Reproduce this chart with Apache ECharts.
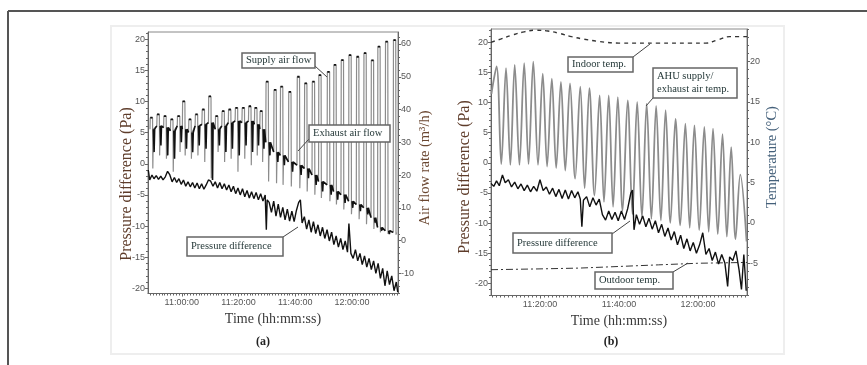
<!DOCTYPE html>
<html>
<head>
<meta charset="utf-8">
<script src="https://cdn.jsdelivr.net/npm/echarts@6/dist/echarts.min.js"></script>
<style>
html, body { margin: 0; padding: 0; background: #fff; }
#main { width: 867px; height: 365px; }
</style>
</head>
<body>
<div id="main"></div>
<script>
// time is in minutes after 11:00:00
var aTimeTicks = [0, 20, 40, 60]
var aTimeLabels = ['11:00:00', '11:20:00', '11:40:00', '12:00:00']
var bTimeTicks = [20, 40, 60]
var bTimeLabels = ['11:20:00', '11:40:00', '12:00:00']
var paTicks = [-20, -15, -10, -5, 0, 5, 10, 15, 20]
var flowTicks = [-10, 0, 10, 20, 30, 40, 50, 60]
var tempTicks = [-5, 0, 5, 10, 15, 20]

// (a) air flow, one entry per supply/exhaust cycle (m3/h)
var aCycleTime = [-11.2, -8.8, -6.4, -4.0, -1.6, 0.2, 2.4, 4.7, 7.1, 9.4, 11.8, 14.1, 16.4, 18.8, 21.2, 23.5, 25.6, 27.5,
    29.6, 32.4, 34.7, 37.6, 40.6, 43.2, 45.9, 48.2, 51.2, 53.5, 56.1, 58.8, 61.5, 64.1, 66.7, 69.0, 71.7, 74.5]
var aSupplyTop = [37.5, 38.5, 38, 37, 38, 42.5, 37, 38.5, 40, 44, 38, 39.5, 40, 40.5, 40.5, 41, 40.5, 39.5,
    48.5, 46, 47, 45.4, 50, 48, 48.5, 50.5, 51.5, 53.6, 55.1, 56.6, 56.1, 57.2, 55, 59.2, 60.7, 61.2]
var aExhaustMid = [34, 35, 34.5, 33.5, 35, 34, 33, 35, 35.5, 36, 34, 35, 36, 36.5, 36, 36.5, 35.5, 34,
    30, 27, 26, 24, 23, 22, 20, 18, 17, 15, 14, 12, 11, 10, 7, 4, 3, 2.5]
var aExhaustDip = [27, 29, 26, 25, 30, 28, 27, 29, 28, 18.5, 29, 27, 28, 26, 29, 27, 29, 28,
    26, 24, 23, 21, 20, 19, 17, 15, 14, 12.5, 11.5, 10, 9, 8, 5.5, 3, 2, 1.8]
var aTroughLow = [22, 26, 25, 21, 27, 26, 25, 26, 24, 19, 27, 24, 25, 21, 25, 23, 26, 24,
    18, 17.5, 17, 16.5, 16, 15, 14, 13, 12, 11, 9.5, 8, 6.5, 5, 3.5, 2.5, 2, 1.8]

// (a) pressure difference (Pa)
var aPressure = [[-11.8, -1.0], [-11.3, -2.6], [-10.5, -1.8], [-9.8, -2.4], [-9.0, -1.9], [-8.2, -2.5], [-7.4, -2.0], [-6.6, -2.6],
    [-5.8, -2.1], [-5.0, -1.2], [-4.2, -1.8], [-3.4, -2.9], [-2.6, -2.2], [-1.8, -3.0], [-1.0, -2.4], [-0.2, -3.3], [0.6, -2.6],
    [1.4, -3.6], [2.2, -2.9], [3.0, -3.7], [3.8, -3.0], [4.6, -3.9], [5.4, -3.1], [6.2, -4.0], [7.0, -3.2], [7.8, -4.1], [8.6, -3.4],
    [9.4, -2.6], [10.2, -2.8], [11.0, -3.6], [11.8, -2.9], [12.6, -3.9], [13.4, -3.0], [14.2, -4.0], [15.0, -3.2], [15.8, -4.2],
    [16.6, -3.4], [17.4, -4.5], [18.2, -3.6], [19.0, -4.8], [19.8, -3.9], [20.6, -5.0], [21.4, -4.0], [22.2, -5.3], [23.0, -4.3],
    [23.8, -5.5], [24.6, -4.5], [25.4, -5.6], [26.2, -4.6], [27.0, -5.8], [27.8, -4.8], [28.6, -6.0], [29.4, -5.0], [29.8, -10.6],
    [30.1, -5.8], [30.8, -6.2], [31.6, -7.8], [32.4, -6.0], [33.2, -8.4], [34.0, -6.5], [34.8, -8.6], [35.6, -7.0], [36.4, -9.0],
    [37.2, -7.3], [38.0, -9.2], [38.8, -7.6], [39.6, -9.3], [40.4, -7.5], [41.2, -6.2], [41.8, -5.8], [42.4, -9.5], [43.2, -8.5],
    [44.0, -10.5], [44.8, -9.0], [45.6, -11.0], [46.4, -9.3], [47.2, -11.2], [48.0, -9.8], [48.8, -11.6], [49.6, -10.2],
    [50.4, -12.0], [51.2, -10.6], [52.0, -12.4], [52.8, -11.0], [53.6, -13.0], [54.4, -11.6], [55.2, -13.4], [56.0, -12.0],
    [56.8, -13.8], [57.6, -12.4], [58.4, -14.2], [58.9, -9.6], [59.6, -14.4], [60.4, -15.2], [61.2, -13.8], [62.0, -15.6],
    [62.8, -14.4], [63.6, -16.2], [64.4, -14.8], [65.2, -16.6], [66.0, -15.2], [66.8, -17.0], [67.6, -15.6], [68.4, -17.6],
    [69.2, -16.0], [70.0, -18.4], [70.8, -16.8], [71.6, -19.6], [72.4, -17.2], [73.2, -19.4], [74.0, -18.0], [74.8, -20.4],
    [75.6, -19.0], [76.1, -20.6]]

// (b) AHU supply/exhaust air temperature, alternating peaks and troughs (degC)
var bAhuTemp = [[7.7, 16.0], [9.0, 19.4], [10.2, 7.3], [11.4, 19.2], [12.5, 7.2], [13.6, 19.6], [14.8, 7.2], [16.0, 19.8],
    [17.1, 7.3], [18.3, 20.0], [19.5, 7.2], [20.7, 18.5], [21.8, 7.0], [23.0, 17.9], [24.1, 6.8], [25.3, 17.5], [26.4, 6.5],
    [27.6, 17.3], [28.9, 5.5], [30.2, 16.9], [31.3, 4.3], [32.5, 16.7], [33.8, 3.4], [35.1, 15.8], [36.2, 2.6], [37.4, 15.8],
    [38.5, 2.0], [39.7, 15.6], [40.9, 1.5], [42.2, 15.2], [43.4, 1.1], [44.6, 15.0], [45.8, 0.7], [47.0, 14.8], [48.2, 0.5],
    [49.4, 14.5], [50.6, 0.3], [51.8, 14.0], [53.0, 0.0], [54.3, 12.9], [55.5, -0.3], [56.8, 12.3], [57.9, -0.6], [59.1, 12.1],
    [60.3, -0.9], [61.6, 11.9], [62.7, -1.1], [63.8, 11.7], [65.0, -1.4], [66.2, 11.0], [67.3, -1.7], [68.4, 9.4], [69.5, -2.0],
    [70.7, 6.0], [72.3, -2.3]]

var bIndoor = [[7.6, 22.4], [10, 22.8], [13, 23.3], [16, 23.7], [19, 23.9], [22, 23.8], [25, 23.5], [28, 23.1], [31, 22.8],
    [35, 22.5], [40, 22.3], [50, 22.3], [58, 22.3], [62, 22.3], [65, 22.7], [68, 23.1], [72.4, 23.1]]
var bOutdoor = [[7.6, -5.8], [20, -5.7], [30, -5.6], [40, -5.4], [50, -5.2], [60, -5.0], [72.4, -4.9]]

// (b) pressure difference (Pa)
var bPressure = [[7.6, -3.4], [8.3, -3.9], [9.0, -3.0], [9.7, -3.8], [10.5, -2.0], [11.2, -3.3], [12.0, -2.8], [12.8, -4.0],
    [13.6, -3.2], [14.4, -4.3], [15.2, -3.5], [16.0, -4.6], [16.8, -3.7], [17.6, -4.8], [18.4, -3.9], [19.2, -4.7], [20.0, -2.8],
    [20.8, -4.6], [21.6, -4.0], [22.4, -5.2], [23.2, -4.2], [24.0, -5.6], [24.8, -4.4], [25.6, -5.9], [26.4, -4.5], [27.2, -6.0],
    [28.0, -4.6], [28.8, -5.8], [29.6, -4.8], [30.2, -6.0], [30.6, -10.6], [31.0, -6.2], [31.8, -5.6], [32.6, -7.3], [33.4, -5.8],
    [34.2, -7.0], [35.0, -6.0], [35.8, -8.6], [36.6, -9.5], [37.4, -8.0], [38.2, -9.4], [39.0, -8.2], [39.8, -9.6], [40.6, -8.0],
    [41.4, -9.4], [42.2, -7.6], [43.0, -5.0], [43.4, -4.5], [43.8, -11.1], [44.4, -8.6], [45.2, -10.2], [46.0, -8.8], [46.8, -10.6],
    [47.6, -9.2], [48.4, -11.0], [49.2, -9.6], [50.0, -11.6], [50.8, -10.2], [51.6, -12.2], [52.4, -10.8], [53.2, -12.8],
    [54.0, -11.4], [54.8, -13.6], [55.6, -12.0], [56.4, -14.2], [57.2, -12.6], [58.0, -14.6], [58.8, -13.2], [59.6, -15.0],
    [60.4, -13.6], [61.2, -11.6], [62.0, -15.2], [62.8, -14.2], [63.6, -16.2], [64.4, -14.8], [65.2, -16.8], [66.0, -15.2],
    [66.8, -16.6], [67.5, -20.5], [68.0, -15.6], [68.8, -16.2], [69.6, -14.6], [70.4, -17.8], [71.0, -21.0], [71.6, -15.2],
    [72.2, -21.2]]

// build the square-ish air flow wave from the cycle tables
var airPath = [], supplyTops = [], exhaustRuns = []
for (var i = 0; i < aCycleTime.length; i++) {
    var t = aCycleTime[i]
    airPath.push([t, aExhaustMid[i]], [t + 0.1, aSupplyTop[i]], [t + 0.9, aSupplyTop[i]],
        [t + 1.0, aTroughLow[i]], [t + 1.2, aExhaustMid[i]])
    supplyTops.push([t + 0.1, aSupplyTop[i]], [t + 0.9, aSupplyTop[i]], [t + 0.9, '-'])
    if (i + 1 < aCycleTime.length) {
        exhaustRuns.push([t + 1.2, aExhaustMid[i]], [t + 1.45, aExhaustDip[i]], [t + 1.65, aExhaustMid[i]],
            [aCycleTime[i + 1], aExhaustMid[i + 1]], [aCycleTime[i + 1], '-'])
    }
}

function steps(from, to, step) {
    var out = []
    for (var v = from; v <= to + 1e-9; v += step) out.push(Math.round(v * 100) / 100)
    return out
}

var tickFont = { fontFamily: 'Liberation Sans', fontSize: 9, color: '#555' }
var axisColor = '#666'

function mainY(grid, pos, min, max, ticks) {
    return {
        type: 'value', gridIndex: grid, position: pos, min: min, max: max,
        axisLine: { show: true, onZero: false, lineStyle: { color: axisColor } },
        axisTick: { show: true, customValues: ticks, length: 3, lineStyle: { color: axisColor } },
        axisLabel: Object.assign({ customValues: ticks, margin: 3 }, tickFont),
        splitLine: { show: false }
    }
}
function minorY(grid, pos, min, max, ticks) {
    return {
        type: 'value', gridIndex: grid, position: pos, min: min, max: max,
        axisLine: { show: false, onZero: false }, axisLabel: { show: false }, splitLine: { show: false },
        axisTick: { show: true, customValues: ticks, length: 2, lineStyle: { color: axisColor } }
    }
}
function mainX(grid, min, max, ticks, labels) {
    return {
        type: 'value', gridIndex: grid, min: min, max: max, position: 'bottom',
        axisLine: { show: true, onZero: false, lineStyle: { color: axisColor } },
        axisTick: { show: true, customValues: ticks, length: 3, lineStyle: { color: axisColor } },
        axisLabel: Object.assign({
            customValues: ticks, margin: 5,
            formatter: function (v) { return labels[ticks.indexOf(v)] }
        }, tickFont),
        splitLine: { show: false },
        name: 'Time (hh:mm:ss)', nameLocation: 'middle', nameGap: 19,
        nameTextStyle: { fontFamily: 'Liberation Serif', fontSize: 14, color: '#3a3a3a' }
    }
}
function minorX(grid, min, max, ticks) {
    return {
        type: 'value', gridIndex: grid, min: min, max: max, position: 'bottom',
        axisLine: { show: false, onZero: false }, axisLabel: { show: false }, splitLine: { show: false },
        axisTick: { show: true, customValues: ticks, length: 2, lineStyle: { color: axisColor } }
    }
}

function noteBox(x, y, w, h, lines, px1, py1, px2, py2) {
    return [
        { type: 'line', z: 50, shape: { x1: px1, y1: py1, x2: px2, y2: py2 }, style: { stroke: '#444', lineWidth: 1 } },
        { type: 'rect', z: 50, shape: { x: x, y: y, width: w, height: h }, style: { fill: '#fff', stroke: '#666', lineWidth: 1.5 } },
        {
            type: 'text', z: 51, x: x + 4, y: y + h / 2,
            style: {
                text: lines, fill: '#1f3333', font: '10.5px "Liberation Serif"',
                verticalAlign: 'middle', align: 'left', lineHeight: 13
            }
        }
    ]
}
function sideTitle(x, y, text, size, color) {
    return {
        type: 'text', z: 40, x: x, y: y, rotation: Math.PI / 2,
        style: { text: text, font: size + 'px "Liberation Serif"', fill: color, align: 'center', verticalAlign: 'middle' }
    }
}

var myChart = echarts.init(document.getElementById('main'))

var graphics = [
    { type: 'rect', z: -10, silent: true, shape: { x: 111, y: 26, width: 673, height: 328 }, style: { fill: null, stroke: '#eee', lineWidth: 2 } },
    { type: 'line', z: 40, shape: { x1: 8, y1: 11, x2: 867, y2: 11 }, style: { stroke: '#555', lineWidth: 2 } },
    { type: 'line', z: 40, shape: { x1: 8, y1: 11, x2: 8, y2: 365 }, style: { stroke: '#555', lineWidth: 2 } },
    { type: 'text', z: 40, x: 263, y: 342, style: { text: '(a)', font: 'bold 12px "Liberation Serif"', fill: '#222', align: 'center', verticalAlign: 'middle' } },
    { type: 'text', z: 40, x: 611, y: 342, style: { text: '(b)', font: 'bold 12px "Liberation Serif"', fill: '#222', align: 'center', verticalAlign: 'middle' } },
    sideTitle(127, 184, 'Pressure difference (Pa)', 16, '#5e3c2a'),
    sideTitle(425, 168, 'Air flow rate (m³/h)', 14.5, '#6a4630'),
    sideTitle(465, 177, 'Pressure difference (Pa)', 16, '#5e3c2a'),
    sideTitle(772, 157, 'Temperature (°C)', 14.5, '#44607a')
]
graphics = graphics
    .concat(noteBox(242, 53, 73, 15, 'Supply air flow', 315, 66, 327, 77))
    .concat(noteBox(309, 125, 81, 17, 'Exhaust air flow', 309, 139, 298, 151))
    .concat(noteBox(187, 237, 96, 19, 'Pressure difference', 283, 237, 298, 227))
    .concat(noteBox(568, 57, 65, 15, 'Indoor temp.', 633, 57, 650, 44))
    .concat(noteBox(653, 68, 84, 30, 'AHU supply/\nexhaust air temp.', 653, 98, 646, 106))
    .concat(noteBox(513, 233, 99, 20, 'Pressure difference', 612, 234, 630, 221))
    .concat(noteBox(595, 272, 78, 17, 'Outdoor temp.', 673, 272, 688, 263))

myChart.setOption({
    animation: false,
    backgroundColor: '#fff',
    grid: [
        { left: 148, top: 32, width: 250, height: 261.5, show: true, borderColor: '#888', borderWidth: 1, containLabel: false },
        { left: 491, top: 29, width: 256, height: 266.5, show: true, borderColor: '#888', borderWidth: 1, containLabel: false }
    ],
    xAxis: [
        mainX(0, -11.9, 76.2, aTimeTicks, aTimeLabels),
        minorX(0, -11.9, 76.2, steps(-11, 76, 1)),
        mainX(1, 7.6, 72.4, bTimeTicks, bTimeLabels),
        minorX(1, 7.6, 72.4, steps(8, 72, 1))
    ],
    yAxis: [
        mainY(0, 'left', -20.84, 21.17, paTicks),
        mainY(0, 'right', -16.16, 63.66, flowTicks),
        minorY(0, 'left', -20.84, 21.17, steps(-20, 21, 1)),
        minorY(0, 'right', -16.16, 63.66, steps(-16, 62, 2)),
        mainY(1, 'left', -22.0, 22.2, paTicks),
        mainY(1, 'right', -9.0, 24.05, tempTicks),
        minorY(1, 'left', -22.0, 22.2, steps(-22, 22, 1)),
        minorY(1, 'right', -9.0, 24.05, steps(-9, 24, 1))
    ],
    series: [
        {
            name: 'Air flow', type: 'line', xAxisIndex: 0, yAxisIndex: 1, data: airPath,
            showSymbol: false, lineStyle: { color: '#8c8c8c', width: 1.2 }, z: 2
        },
        {
            name: 'Supply air flow', type: 'line', xAxisIndex: 0, yAxisIndex: 1, data: supplyTops,
            showSymbol: false, connectNulls: false, lineStyle: { color: '#111', width: 1.8 }, z: 3
        },
        {
            name: 'Exhaust air flow', type: 'line', xAxisIndex: 0, yAxisIndex: 1, data: exhaustRuns,
            showSymbol: false, connectNulls: false, lineStyle: { color: '#111', width: 1.6 }, z: 3
        },
        {
            name: 'Pressure difference', type: 'line', xAxisIndex: 0, yAxisIndex: 0, data: aPressure,
            showSymbol: false, lineStyle: { color: '#111', width: 1.4 }, z: 4
        },
        {
            name: 'AHU supply/exhaust air temp.', type: 'line', xAxisIndex: 2, yAxisIndex: 5, data: bAhuTemp,
            showSymbol: false, smooth: 0.35, lineStyle: { color: '#8c8c8c', width: 1.8 }, z: 2
        },
        {
            name: 'Indoor temp.', type: 'line', xAxisIndex: 2, yAxisIndex: 5, data: bIndoor,
            showSymbol: false, smooth: 0.4, lineStyle: { color: '#333', width: 1.4, type: [4, 4] }, z: 3
        },
        {
            name: 'Outdoor temp.', type: 'line', xAxisIndex: 2, yAxisIndex: 5, data: bOutdoor,
            showSymbol: false, lineStyle: { color: '#333', width: 1, type: [7, 3, 2, 3] }, z: 3
        },
        {
            name: 'Pressure difference', type: 'line', xAxisIndex: 2, yAxisIndex: 4, data: bPressure,
            showSymbol: false, lineStyle: { color: '#111', width: 1.4 }, z: 4
        }
    ],
    graphic: graphics
})
</script>
</body>
</html>
